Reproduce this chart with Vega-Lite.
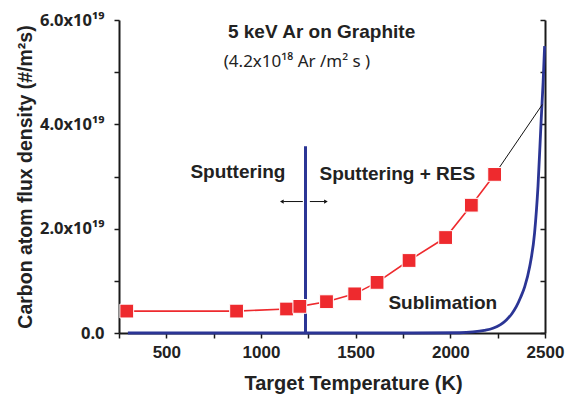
{
  "$schema": "https://vega.github.io/schema/vega-lite/v6.json",
  "width": 426,
  "height": 313,
  "autosize": {"type": "none"},
  "padding": {"left": 119, "top": 20, "right": 32, "bottom": 65},
  "background": "white",
  "config": {
    "view": {"stroke": null},
    "font": "Liberation Sans",
    "axis": {"grid": false, "domainColor": "#1a1a1a", "tickColor": "#1a1a1a", "domainWidth": 2, "tickWidth": 1.5, "labelFont": "Liberation Sans", "titleFont": "Liberation Sans", "labelFontWeight": "bold", "titleFontWeight": "bold", "labelColor": "#222", "titleColor": "#222"}
  },
  "datasets": {
    "res": [
      {"T": 291, "flux": 0.42},
      {"T": 871, "flux": 0.42},
      {"T": 1135, "flux": 0.46},
      {"T": 1205, "flux": 0.51},
      {"T": 1346, "flux": 0.60},
      {"T": 1495, "flux": 0.75},
      {"T": 1613, "flux": 0.97},
      {"T": 1782, "flux": 1.39},
      {"T": 1975, "flux": 1.83},
      {"T": 2111, "flux": 2.45},
      {"T": 2234, "flux": 3.04}
    ],
    "sub": [
      {"T": 297, "flux": 0},
      {"T": 1800, "flux": 0},
      {"T": 2050, "flux": 0.005},
      {"T": 2120, "flux": 0.02},
      {"T": 2180, "flux": 0.05},
      {"T": 2225, "flux": 0.09},
      {"T": 2265, "flux": 0.16},
      {"T": 2296, "flux": 0.25},
      {"T": 2325, "flux": 0.37},
      {"T": 2349, "flux": 0.51},
      {"T": 2372, "flux": 0.69},
      {"T": 2393, "flux": 0.89},
      {"T": 2419, "flux": 1.27},
      {"T": 2445, "flux": 1.92},
      {"T": 2463, "flux": 2.81},
      {"T": 2480, "flux": 4.10},
      {"T": 2490, "flux": 4.8},
      {"T": 2498, "flux": 5.5}
    ],
    "boundary": [{"T": 1235, "y0": 0, "y1": 3.58}],
    "leader": [{"T": 2234, "flux": 3.04}, {"T": 2486, "flux": 4.38}],
    "arrows": [
      {"T": 1221, "T2": 1118, "flux": 2.52, "head": 1110, "shape": "triangle-left"},
      {"T": 1258, "T2": 1335, "flux": 2.52, "head": 1343, "shape": "triangle-right"}
    ],
    "boldlabels": [
      {"T": 1320, "flux": 5.77, "text": "5 keV Ar on Graphite"},
      {"T": 878, "flux": 3.08, "text": "Sputtering"},
      {"T": 1720, "flux": 3.04, "text": "Sputtering + RES"},
      {"T": 1960, "flux": 0.58, "text": "Sublimation"}
    ],
    "plainlabels": [
      {"T": 1190, "flux": 5.19, "text": "(4.2x10¹⁸ Ar /m² s )"}
    ]
  },
  "resolve": {"axis": {"y": "independent"}},
  "layer": [
    {
      "data": {"name": "sub"},
      "mark": {"type": "line", "color": "#2b3595", "strokeWidth": 2.8, "interpolate": "monotone"},
      "encoding": {
        "x": {"field": "T", "type": "quantitative", "scale": {"domain": [250, 2500], "nice": false, "zero": false},
          "axis": {"values": [250, 500, 750, 1000, 1250, 1500, 1750, 2000, 2250, 2500], "labelExpr": "datum.value % 500 == 0 ? datum.value : ''", "labelFlush": false, "tickSize": 5, "labelFontSize": 17, "labelPadding": 6, "title": "Target Temperature (K)", "titleFontSize": 20, "titlePadding": 13, "titleX": 234}},
        "y": {"field": "flux", "type": "quantitative", "scale": {"domain": [0, 6], "nice": false},
          "axis": {"values": [0, 1, 2, 3, 4, 5, 6], "labelExpr": "datum.value == 0 ? '0.0' : (datum.value % 2 == 0 ? format(datum.value, '.1f') + 'x10¹⁹' : '')", "labelFlush": false, "labelFont": "Noto Sans", "tickSize": 5, "labelFontSize": 16.5, "labelPadding": 10, "title": "Carbon atom flux density  (#/m²s)", "titleFontSize": 19.5, "titlePadding": 4}}
      }
    },
    {
      "data": {"name": "boundary"},
      "mark": {"type": "rule", "color": "#2b3595", "strokeWidth": 3},
      "encoding": {
        "x": {"field": "T", "type": "quantitative"},
        "y": {"field": "y0", "type": "quantitative", "axis": null},
        "y2": {"field": "y1"}
      }
    },
    {
      "data": {"name": "leader"},
      "mark": {"type": "line", "color": "#111", "strokeWidth": 1},
      "encoding": {
        "x": {"field": "T", "type": "quantitative"},
        "y": {"field": "flux", "type": "quantitative", "axis": null}
      }
    },
    {
      "data": {"name": "res"},
      "mark": {"type": "line", "color": "#ee2a2e", "strokeWidth": 1.6},
      "encoding": {
        "x": {"field": "T", "type": "quantitative"},
        "y": {"field": "flux", "type": "quantitative", "axis": null}
      }
    },
    {
      "data": {"name": "res"},
      "mark": {"type": "point", "shape": "square", "filled": true, "color": "#ee2a2e", "size": 190, "opacity": 1, "stroke": "white", "strokeWidth": 1},
      "encoding": {
        "x": {"field": "T", "type": "quantitative"},
        "y": {"field": "flux", "type": "quantitative", "axis": null}
      }
    },
    {
      "data": {"name": "arrows"},
      "mark": {"type": "rule", "color": "#111", "strokeWidth": 1},
      "encoding": {
        "x": {"field": "T", "type": "quantitative"},
        "x2": {"field": "T2"},
        "y": {"field": "flux", "type": "quantitative", "axis": null}
      }
    },
    {
      "data": {"name": "arrows"},
      "mark": {"type": "point", "filled": true, "color": "#111", "size": 18, "opacity": 1},
      "encoding": {
        "x": {"field": "head", "type": "quantitative"},
        "y": {"field": "flux", "type": "quantitative", "axis": null},
        "shape": {"field": "shape", "type": "nominal", "scale": null}
      }
    },
    {
      "data": {"name": "boldlabels"},
      "mark": {"type": "text", "fontSize": 19, "fontWeight": "bold", "color": "#222", "font": "Liberation Sans"},
      "encoding": {
        "x": {"field": "T", "type": "quantitative"},
        "y": {"field": "flux", "type": "quantitative", "axis": null},
        "text": {"field": "text", "type": "nominal"}
      }
    },
    {
      "data": {"name": "plainlabels"},
      "mark": {"type": "text", "fontSize": 17, "color": "#222", "font": "Noto Sans"},
      "encoding": {
        "x": {"field": "T", "type": "quantitative"},
        "y": {"field": "flux", "type": "quantitative", "axis": null},
        "text": {"field": "text", "type": "nominal"}
      }
    },
    {
      "data": {"name": "sub"},
      "mark": {"type": "line", "opacity": 0},
      "encoding": {
        "x": {"field": "T", "type": "quantitative"},
        "y": {"field": "flux", "type": "quantitative",
          "axis": {"orient": "right", "values": [0, 1, 2, 3, 4, 5, 6], "labels": false, "tickSize": -5, "title": null}}
      }
    }
  ]
}
